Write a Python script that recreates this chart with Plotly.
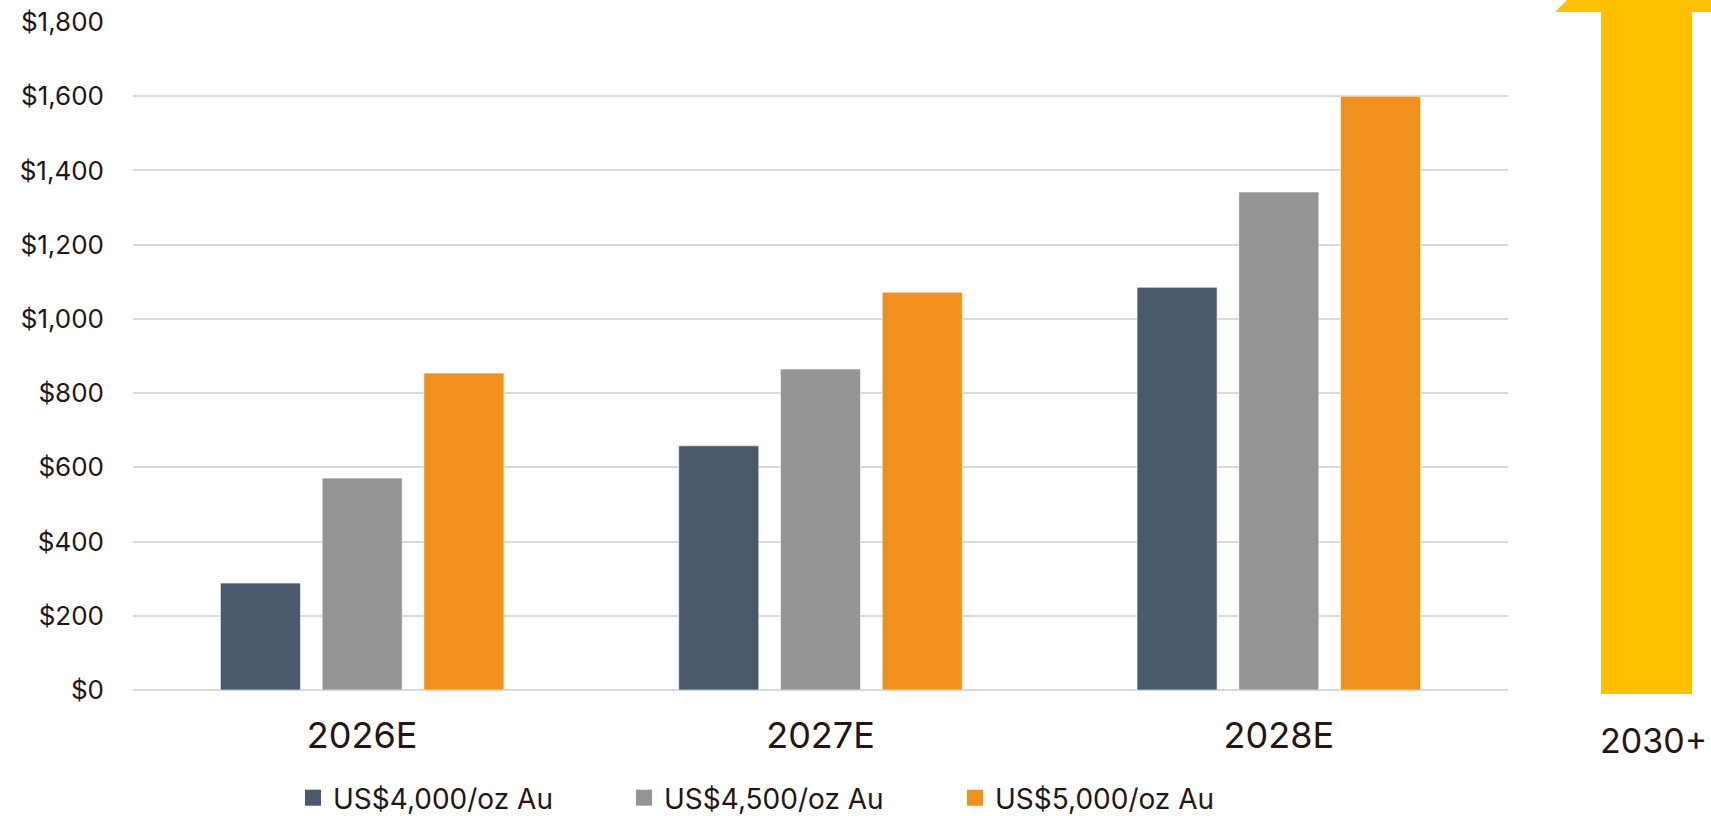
import plotly.graph_objects as go

categories = ["2026E", "2027E", "2028E"]
series_names = ["US$4,000/oz Au", "US$4,500/oz Au", "US$5,000/oz Au"]
values_4000 = [288, 658, 1085]
values_4500 = [571, 865, 1342]
values_5000 = [854, 1072, 1600]
colors = ["#4A596C", "#959595", "#F0901E"]
arrow_label = "2030+"
y_ticks = [0, 200, 400, 600, 800, 1000, 1200, 1400, 1600, 1800]
y_ticktext = [f"${v:,}" for v in y_ticks]

W, H = 1711, 816
ML, MR, MT, MB = 133, 203, 22, 126
TEXT = "#261512"
FONT = "Inter"

fig = go.Figure()
for name, vals, col in zip(series_names, [values_4000, values_4500, values_5000], colors):
    fig.add_trace(go.Bar(
        x=categories, y=vals, name=name, showlegend=False, legendgroup=name,
        marker=dict(color=col, line=dict(color="rgba(255,255,255,0.6)", width=1)),
    ))
# legend entries (square swatches)
for name, col in zip(series_names, colors):
    fig.add_trace(go.Scatter(
        x=[None], y=[None], mode="markers", name=name, legendgroup=name,
        marker=dict(symbol="square", size=16, color=col),
        hoverinfo="skip",
    ))

pw = W - ML - MR
ph = H - MT - MB

def px_x(x):
    return (x - ML) / pw

def px_y(y):
    return (H - MB - y) / ph

# upward arrow representing 2030+ (decorative)
sx0, sx1 = 1601, 1692
bottom = 694
head_base = 12
hx0, hx1 = 1555, 1738
cx = (sx0 + sx1) / 2
tip = head_base - (cx - hx0)
path = (f"M{px_x(sx0)},{px_y(bottom)} L{px_x(sx0)},{px_y(head_base)} L{px_x(hx0)},{px_y(head_base)} "
        f"L{px_x(cx)},{px_y(tip)} L{px_x(hx1)},{px_y(head_base)} L{px_x(sx1)},{px_y(head_base)} "
        f"L{px_x(sx1)},{px_y(bottom)} Z")
fig.add_shape(type="path", path=path, xref="paper", yref="paper",
              fillcolor="#FFC000", line=dict(width=0), layer="above")

fig.add_annotation(text=arrow_label, xref="paper", yref="paper",
                   x=px_x(1598), y=px_y(740), xanchor="left", yanchor="middle",
                   showarrow=False, font=dict(size=34, color=TEXT, family=FONT))

fig.update_layout(
    width=W, height=H,
    margin=dict(l=ML, r=MR, t=MT, b=MB, pad=0, autoexpand=False),
    paper_bgcolor="white", plot_bgcolor="white",
    barmode="group", bargap=0.334, bargroupgap=0.213,
    font=dict(family=FONT, color=TEXT),
    showlegend=True,
    legend=dict(orientation="h", xref="container", x=293 / W, xanchor="left",
                yref="container", y=(H - 798) / H, yanchor="middle",
                font=dict(size=28, color=TEXT, family=FONT),
                entrywidth=286, entrywidthmode="pixels", itemsizing="trace",
                bgcolor="rgba(0,0,0,0)"),
    xaxis=dict(showgrid=False, showline=False, ticks="", automargin=False,
               tickfont=dict(size=36, color=TEXT, family=FONT), ticklabelstandoff=21),
    yaxis=dict(range=[0, 1800], tickmode="array", tickvals=y_ticks, ticktext=y_ticktext,
               showgrid=True, gridcolor="#D9D9D9", gridwidth=1.5, automargin=False,
               zeroline=True, zerolinecolor="#D9D9D9", zerolinewidth=1.5,
               showline=False, ticks="", ticklabelstandoff=28,
               tickfont=dict(size=26, color=TEXT, family=FONT)),
)

fig.write_html("out.html")
